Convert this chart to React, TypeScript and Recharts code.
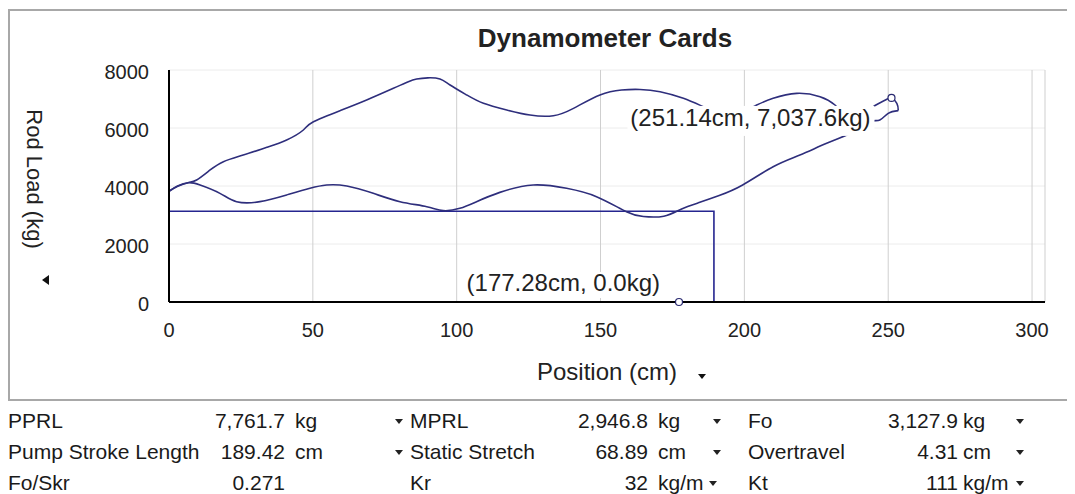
import { LineChart, Line, XAxis, YAxis, CartesianGrid, ReferenceDot } from 'recharts';

const FONT = '"Liberation Sans", Arial, Helvetica, sans-serif';

const xTicks = [0, 50, 100, 150, 200, 250, 300];
const yTicks = [0, 2000, 4000, 6000, 8000];

// surface card, upstroke (position cm, load kg)
const upstroke = [
  { x: 0, y: 3820 }, { x: 3, y: 3990 }, { x: 6.6, y: 4114 }, { x: 9.6, y: 4207 },
  { x: 14.3, y: 4552 }, { x: 18.9, y: 4839 }, { x: 25.8, y: 5069 }, { x: 34, y: 5333 },
  { x: 40.9, y: 5586 }, { x: 46.7, y: 5931 }, { x: 50.2, y: 6218 }, { x: 60, y: 6621 },
  { x: 68.7, y: 6966 }, { x: 78, y: 7368 }, { x: 83.2, y: 7598 }, { x: 86.1, y: 7690 },
  { x: 90, y: 7730 }, { x: 94.2, y: 7690 }, { x: 97.7, y: 7483 }, { x: 103.5, y: 7138 },
  { x: 109.3, y: 6851 }, { x: 117.4, y: 6621 }, { x: 125.5, y: 6448 }, { x: 133.6, y: 6425 },
  { x: 140.6, y: 6678 }, { x: 149.8, y: 7138 }, { x: 157.3, y: 7310 }, { x: 163.7, y: 7330 },
  { x: 170.7, y: 7253 }, { x: 178.8, y: 7023 }, { x: 185.7, y: 6736 }, { x: 191, y: 6540 },
  { x: 196, y: 6480 }, { x: 200, y: 6580 }, { x: 204.3, y: 6793 }, { x: 210, y: 7023 },
  { x: 218.2, y: 7195 }, { x: 226.3, y: 7080 }, { x: 231.5, y: 6793 }, { x: 236, y: 6450 },
  { x: 241, y: 6480 }, { x: 244.8, y: 6736 }, { x: 249.5, y: 6989 }, { x: 251.14, y: 7037.6 },
  { x: 253, y: 6850 }, { x: 253.5, y: 6600 },
];

// surface card, downstroke
const downstroke = [
  { x: 253.5, y: 6600 }, { x: 250, y: 6506 }, { x: 247.1, y: 6276 }, { x: 243.7, y: 6218 },
  { x: 237.9, y: 5873 }, { x: 228.6, y: 5471 }, { x: 219.3, y: 5069 }, { x: 210, y: 4666 },
  { x: 199.4, y: 4034 }, { x: 191, y: 3660 }, { x: 184, y: 3420 }, { x: 178, y: 3200 },
  { x: 172, y: 2960 }, { x: 164.9, y: 2947 }, { x: 159, y: 3114 }, { x: 148.6, y: 3632 },
  { x: 138.2, y: 3920 }, { x: 126.6, y: 4034 }, { x: 115, y: 3780 }, { x: 106.9, y: 3460 },
  { x: 101.1, y: 3230 }, { x: 95.3, y: 3150 }, { x: 89.6, y: 3287 }, { x: 80.3, y: 3460 },
  { x: 71, y: 3747 }, { x: 61.8, y: 4000 }, { x: 54.8, y: 4034 }, { x: 49, y: 3920 },
  { x: 40.9, y: 3690 }, { x: 31.6, y: 3460 }, { x: 23.5, y: 3460 }, { x: 17.7, y: 3747 },
  { x: 10.8, y: 4034 }, { x: 6.7, y: 4114 }, { x: 3, y: 4000 }, { x: 0, y: 3820 },
];

// pump card (Fo by pump stroke length)
const pumpCard = [
  { x: 0, y: 3127.9 }, { x: 189.42, y: 3127.9 }, { x: 189.42, y: 0 },
];

const markerX = [251.14, 177.28];
const markerY = [7037.6, 0];
const markerText = ['(251.14cm, 7,037.6kg)', '(177.28cm, 0.0kg)'];

const statNames = ['PPRL', 'MPRL', 'Fo', 'Pump Stroke Length', 'Static Stretch', 'Overtravel', 'Fo/Skr', 'Kr', 'Kt'];
const statValues = ['7,761.7', '2,946.8', '3,127.9', '189.42', '68.89', '4.31', '0.271', '32', '111'];
const statUnits = ['kg', 'kg', 'kg', 'cm', 'cm', 'cm', '', 'kg/m', 'kg/m'];
const statMenu = [true, true, true, true, true, true, false, true, true];

const cols = [
  { label: 8, value: 285, unit: 295, arrow: 399 },
  { label: 410, value: 648, unit: 658, arrow: 717 },
  { label: 748, value: 958, unit: 963, arrow: 1020 },
];
const rowBase = [428, 459, 490];

const YAxisTitle = (props: any) => {
  const { x, y } = props.viewBox;
  const tx = x + 8;
  const ty = y + 109;
  return (
    <g>
      <text x={tx} y={ty} transform={`rotate(90 ${tx} ${ty})`} textAnchor="middle" fontSize={22} fill="#222" fontFamily={FONT}>
        Rod Load (kg)
      </text>
      <polygon points={`${x + 23},${y + 210} ${x + 30},${y + 205} ${x + 30},${y + 215}`} fill="#111" />
    </g>
  );
};

const XAxisTitle = (props: any) => {
  const { x, y, width } = props.viewBox;
  const cx = x + width / 2;
  return (
    <g>
      <text x={cx} y={y + 78} textAnchor="middle" fontSize={24} fill="#222" fontFamily={FONT}>
        Position (cm)
      </text>
      <polygon points={`${cx + 91},${y + 72} ${cx + 99},${y + 72} ${cx + 95},${y + 77}`} fill="#111" />
    </g>
  );
};

const makeMarker = (i: number) => (props: any) => {
  const { cx, cy } = props;
  const below = i === 0;
  const tx = below ? cx - 21 : cx - 19;
  const ty = below ? cy + 28 : cy - 11;
  return (
    <g>
      <rect x={below ? cx - 264 : cx - 216} y={below ? cy + 8 : cy - 30} width={below ? 247 : 200} height={below ? 30 : 26} fill="#fff" />
      <text x={tx} y={ty} textAnchor="end" fontSize={24} fill="#222" fontFamily={FONT}>
        {markerText[i]}
      </text>
      <circle cx={cx} cy={cy} r={3.5} fill="#fff" stroke="#2a2a70" strokeWidth={1.2} />
    </g>
  );
};

export default function App() {
  return (
    <div style={{ position: 'relative', width: 1059, height: 486 }}>
      <svg width={1075} height={494} style={{ position: 'absolute', left: -8, top: -8 }}>
        <rect x={9} y={10} width={1062} height={390} fill="#fff" stroke="#a8a8a8" strokeWidth={2} />
        <text x={605} y={47} textAnchor="middle" fontSize={26} fontWeight="bold" fill="#222" fontFamily={FONT}>
          Dynamometer Cards
        </text>
        {statNames.map((name, i) => {
          const c = cols[i % 3];
          const b = rowBase[Math.floor(i / 3)];
          const ax = i === 7 ? 713 : c.arrow;
          return (
            <g key={name} fontFamily={FONT} fontSize={21} fill="#1a1a1a">
              <text x={c.label} y={b}>{name}</text>
              <text x={c.value} y={b} textAnchor="end">{statValues[i]}</text>
              {statUnits[i] && <text x={c.unit} y={b}>{statUnits[i]}</text>}
              {statMenu[i] && (
                <polygon points={`${ax - 4},${b - 9} ${ax + 4},${b - 9} ${ax},${b - 4}`} fill="#222" />
              )}
            </g>
          );
        })}
      </svg>
      <div style={{ position: 'absolute', left: 0, top: 0 }}>
        <LineChart width={1063} height={394} margin={{ top: 62, right: 26, bottom: 0, left: 11 }}>
          <CartesianGrid vertical={false} stroke="#ececec" />
          <CartesianGrid horizontal={false} stroke="#cfcfcf" />
          <XAxis
            type="number"
            dataKey="x"
            domain={[0, 304.5]}
            ticks={xTicks}
            allowDataOverflow
            height={100}
            tickLine={false}
            tickSize={0}
            tickMargin={21}
            axisLine={{ stroke: '#000', strokeWidth: 2 }}
            tick={{ fontSize: 20, fill: '#222', fontFamily: FONT }}
            label={{ content: XAxisTitle }}
          />
          <YAxis
            type="number"
            domain={[0, 8000]}
            ticks={yTicks}
            allowDataOverflow
            width={150}
            tickLine={false}
            tickSize={0}
            tickMargin={20}
            axisLine={{ stroke: '#000', strokeWidth: 2 }}
            tick={{ fontSize: 20, fill: '#222', fontFamily: FONT, dy: 2 }}
            label={{ content: YAxisTitle }}
          />
          <Line data={pumpCard} dataKey="y" type="linear" stroke="#25258f" strokeWidth={1.6} dot={false} activeDot={false} isAnimationActive={false} />
          <Line data={upstroke} dataKey="y" type="natural" stroke="#2e2e7c" strokeWidth={1.6} dot={false} activeDot={false} isAnimationActive={false} />
          <Line data={downstroke} dataKey="y" type="natural" stroke="#2e2e7c" strokeWidth={1.6} dot={false} activeDot={false} isAnimationActive={false} />
          {markerX.map((mx, i) => (
            <ReferenceDot key={i} x={mx} y={markerY[i]} r={3.5} ifOverflow="visible" shape={makeMarker(i)} />
          ))}
        </LineChart>
      </div>
    </div>
  );
}
